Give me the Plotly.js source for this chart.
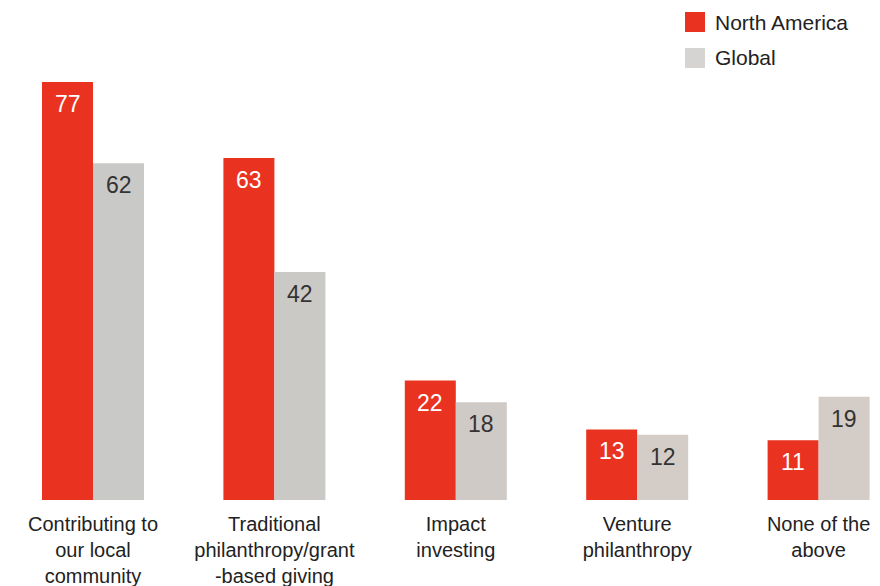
<!DOCTYPE html>
<html>
<head>
<meta charset="utf-8">
<script src="https://cdn.plot.ly/plotly-3.0.1.min.js"></script>
<style>html,body{margin:0;padding:0;background:#fff;}#chart{width:880px;height:586px;}</style>
</head>
<body>
<div id="chart"></div>
<script>
const categories = [
  "Contributing to<br>our local<br>community",
  "Traditional<br>philanthropy/grant<br>-based giving",
  "Impact<br>investing",
  "Venture<br>philanthropy",
  "None of the<br>above"
];
const northAmerica = [77, 63, 22, 13, 11];
const global = [62, 42, 18, 12, 19];
const seriesNames = ["North America", "Global"];

const RED = "#e9321f";
const GREYS = ["#c9c9c7", "#cbc9c6", "#cfcac6", "#d4cdc7", "#d4cdc7"];
const FONT = "Liberation Sans, Arial, Helvetica, sans-serif";

const traces = [
  {type: "bar", name: seriesNames[0], x: categories, y: northAmerica,
   marker: {color: RED}, hoverinfo: "none", showlegend: false},
  {type: "bar", name: seriesNames[1], x: categories, y: global,
   marker: {color: GREYS}, hoverinfo: "none", showlegend: false}
];

const pxPerCat = 181.4;
const barPx = 51;
const annotations = [];
categories.forEach((c, i) => {
  annotations.push({x: c, y: northAmerica[i], xref: "x", yref: "y", text: String(northAmerica[i]),
    showarrow: false, xshift: -barPx/2, yshift: -22, yanchor: "middle",
    font: {family: FONT, size: 23, color: "#ffffff"}});
  annotations.push({x: c, y: global[i], xref: "x", yref: "y", text: String(global[i]),
    showarrow: false, xshift: barPx/2, yshift: -22, yanchor: "middle",
    font: {family: FONT, size: 23, color: "#333333"}});
});
// legend
annotations.push({x: 713/880, y: (500-22)/500, xref: "paper", yref: "paper", text: seriesNames[0],
  showarrow: false, xanchor: "left", yanchor: "middle", font: {family: FONT, size: 21, color: "#222"}});
annotations.push({x: 713/880, y: (500-58)/500, xref: "paper", yref: "paper", text: seriesNames[1],
  showarrow: false, xanchor: "left", yanchor: "middle", font: {family: FONT, size: 21, color: "#222"}});
const shapes = [
  {type: "rect", xref: "paper", yref: "paper", x0: 685/880, x1: 705/880, y0: (500-32)/500, y1: (500-12)/500,
   fillcolor: RED, line: {width: 0}},
  {type: "rect", xref: "paper", yref: "paper", x0: 685/880, x1: 705/880, y0: (500-68)/500, y1: (500-48)/500,
   fillcolor: "#d6d4d2", line: {width: 0}}
];

const x0 = -93/pxPerCat;
const layout = {
  width: 880, height: 586,
  margin: {l: 0, r: 0, t: 0, b: 86, pad: 0},
  paper_bgcolor: "#fff", plot_bgcolor: "#fff",
  barmode: "group", bargap: 1 - 2*barPx/pxPerCat, bargroupgap: 0,
  xaxis: {range: [x0, x0 + 880/pxPerCat], showgrid: false, zeroline: false, showline: false,
    ticks: "", ticklabelstandoff: 10, tickfont: {family: FONT, size: 20, color: "#222"}, fixedrange: true},
  yaxis: {range: [0, 500/5.43], visible: false, fixedrange: true},
  showlegend: false,
  annotations: annotations,
  shapes: shapes,
  font: {family: FONT}
};
Plotly.newPlot("chart", traces, layout, {displayModeBar: false, staticPlot: true});
</script>
</body>
</html>
